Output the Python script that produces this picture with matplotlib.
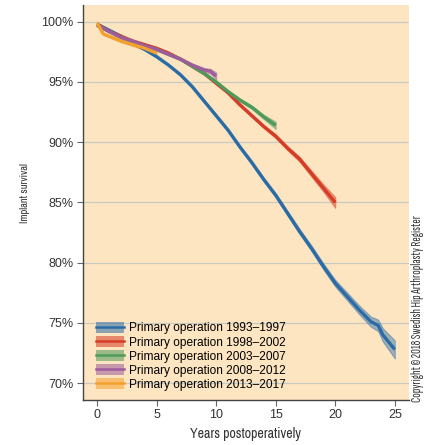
import numpy as np
import matplotlib
matplotlib.use("Agg")
import matplotlib.pyplot as plt
from matplotlib.patches import Patch
from matplotlib.lines import Line2D

plt.rcParams['font.family'] = ['Liberation Sans', 'DejaVu Sans']
narrow = ['Archivo Narrow', 'Liberation Sans', 'DejaVu Sans']

# survival curves (years, % survival, CI half width)
labels = ["Primary operation 1993\u20131997", "Primary operation 1998\u20132002",
          "Primary operation 2003\u20132007", "Primary operation 2008\u20132012",
          "Primary operation 2013\u20132017"]
colors = ["#2c6ca6", "#d63c26", "#4f9a5a", "#9d5c9c", "#f4a02e"]

yrs_9397 = [0, 1, 2, 3, 4, 5, 6, 7, 8, 9, 10, 11, 12, 13, 14, 15, 16, 17, 18, 19, 20, 21, 22, 23, 23.6, 24, 25]
surv_9397 = [99.8, 99.3, 98.8, 98.2, 97.7, 97.1, 96.4, 95.6, 94.6, 93.4, 92.2, 91.0, 89.6, 88.3, 86.9,
             85.6, 84.1, 82.6, 81.2, 79.7, 78.3, 77.2, 76.1, 75.1, 74.8, 74.0, 72.8]
ci_9397 = [0.05, 0.05, 0.05, 0.06, 0.07, 0.08, 0.08, 0.09, 0.1, 0.1, 0.12, 0.12, 0.13, 0.14, 0.15,
           0.16, 0.18, 0.2, 0.22, 0.25, 0.28, 0.32, 0.36, 0.42, 0.48, 0.55, 0.75]

yrs_9802 = [0, 1, 2, 3, 4, 5, 6, 7, 8, 9, 10, 11, 12, 13, 14, 15, 16, 17, 18, 19, 20]
surv_9802 = [99.8, 99.2, 98.8, 98.4, 98.1, 97.8, 97.4, 96.9, 96.3, 95.7, 94.9, 94.1, 93.1, 92.2,
             91.3, 90.5, 89.5, 88.6, 87.4, 86.2, 85.0]
ci_9802 = [0.05, 0.05, 0.05, 0.06, 0.06, 0.07, 0.07, 0.08, 0.08, 0.09, 0.1, 0.1, 0.11, 0.12,
           0.13, 0.15, 0.17, 0.2, 0.25, 0.3, 0.45]

yrs_0307 = [0, 1, 2, 3, 4, 5, 6, 7, 8, 9, 10, 11, 12, 13, 14, 15]
surv_0307 = [99.7, 99.2, 98.7, 98.3, 98.0, 97.7, 97.3, 96.9, 96.3, 95.7, 95.0, 94.2, 93.5, 92.9, 92.1, 91.4]
ci_0307 = [0.05, 0.05, 0.05, 0.05, 0.06, 0.06, 0.07, 0.07, 0.08, 0.09, 0.1, 0.11, 0.12, 0.14, 0.18, 0.3]

yrs_0812 = [0, 1, 2, 3, 4, 5, 6, 7, 8, 9, 9.5, 10]
surv_0812 = [99.7, 99.2, 98.7, 98.4, 98.0, 97.7, 97.3, 96.9, 96.4, 96.0, 95.9, 95.5]
ci_0812 = [0.05, 0.05, 0.06, 0.06, 0.07, 0.08, 0.09, 0.1, 0.12, 0.15, 0.2, 0.3]

yrs_1317 = [0, 0.5, 1, 2, 3, 4, 5]
surv_1317 = [99.9, 99.0, 98.8, 98.4, 98.1, 97.8, 97.4]
ci_1317 = [0.15, 0.1, 0.1, 0.1, 0.12, 0.15, 0.3]

series = [(yrs_9397, surv_9397, ci_9397), (yrs_9802, surv_9802, ci_9802),
          (yrs_0307, surv_0307, ci_0307), (yrs_0812, surv_0812, ci_0812),
          (yrs_1317, surv_1317, ci_1317)]

fig = plt.figure(figsize=(4.27, 4.45), dpi=100)
ax = fig.add_axes([0.194, 0.101, 0.764, 0.888])
ax.set_facecolor("#fde5c1")

for (t, s, c), col in zip(series, colors):
    t = np.array(t)
    s = np.array(s)
    c = np.array(c)
    ax.fill_between(t, s - c, s + c, color=col, alpha=0.45, lw=0.8, zorder=2)
    ax.plot(t, s, color=col, lw=2.4, zorder=3, solid_capstyle='butt')

ax.set_xlim(-1.2, 26.2)
ax.set_ylim(68.6, 101.4)
ax.set_yticks([70, 75, 80, 85, 90, 95, 100])
ax.set_yticklabels([f"{v}%" for v in [70, 75, 80, 85, 90, 95, 100]])
ax.set_xticks([0, 5, 10, 15, 20, 25])
ax.grid(axis='y', color="#c9c9c2", lw=0.9, zorder=1)
ax.set_axisbelow(True)

for side in ['top', 'right']:
    ax.spines[side].set_visible(False)
for side in ['left', 'bottom']:
    ax.spines[side].set_color("#444444")
    ax.spines[side].set_linewidth(1.0)
ax.tick_params(direction='out', length=4.3, width=0.8, color="#666666",
               labelsize=9, labelcolor="#333333", pad=2.5)

ax.set_ylabel("Implant survival", fontsize=7.5, color="#333333", family=narrow)
ax.yaxis.set_label_coords(-0.162, 0.523)
ax.set_xlabel("Years postoperatively", fontsize=10, color="#333333", labelpad=4, family=narrow)

handles = []
for col in colors:
    handles.append((Patch(facecolor=col, alpha=0.55, edgecolor='none'),
                    Line2D([], [], color=col, lw=1.8)))
ax.legend(handles, labels, loc='lower left', bbox_to_anchor=(0.014, 0.002),
          frameon=False, fontsize=8.6, handlelength=2.35, handleheight=1.0,
          labelspacing=0.14, handletextpad=0.4, borderpad=0.2)

fig.text(0.977, 0.096, "Copyright \u00a9 2018 Swedish Hip Arthroplasty Register",
         rotation=90, ha='center', va='bottom', fontsize=9.5, color="#333333",
         family=['Sofia Sans Extra Condensed', 'Archivo Narrow', 'DejaVu Sans'])

fig.savefig("out.png", dpi=100)
